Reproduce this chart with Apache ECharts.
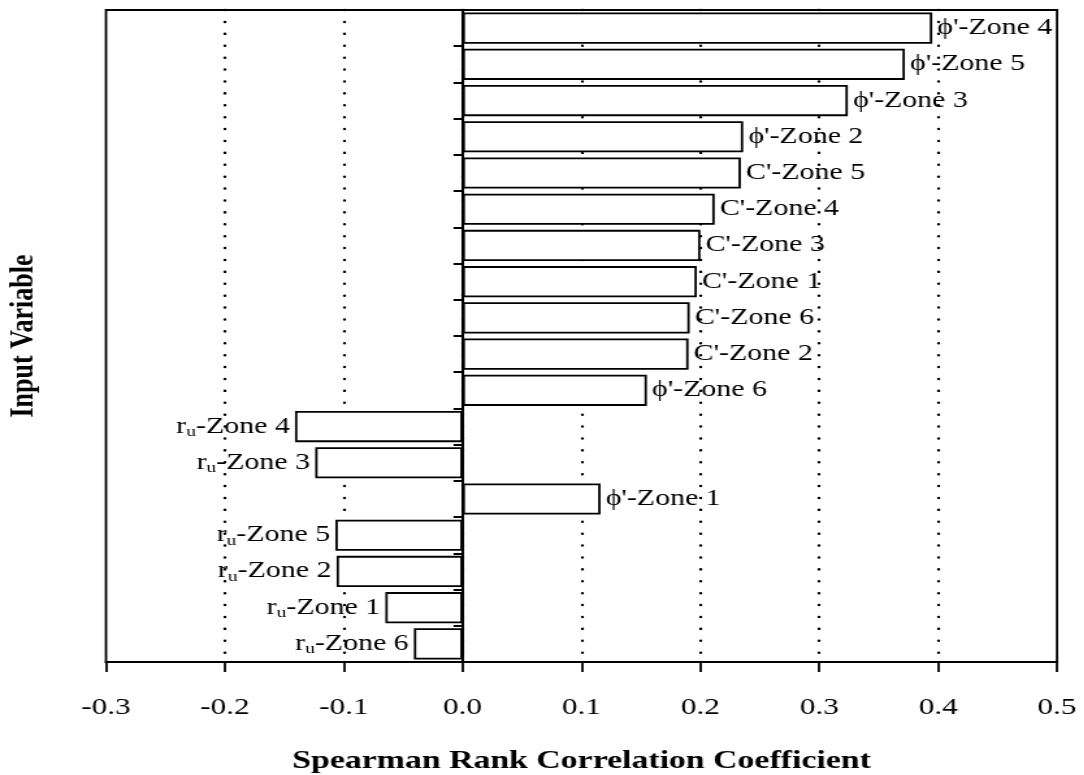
<!DOCTYPE html>
<html>
<head>
<meta charset="utf-8">
<script src="https://cdn.jsdelivr.net/npm/echarts@6/dist/echarts.min.js"></script>
<style>
html,body{margin:0;padding:0;background:#fff;overflow:hidden;}
#wrap{width:1084px;height:775px;overflow:hidden;}
#chart{width:834px;height:775px;transform:scaleX(1.3);transform-origin:0 0;}
</style>
</head>
<body>
<div id="wrap"><div id="chart"></div></div>
<script>
// Categories, top to bottom
const categories = [
  "ϕ'-Zone 4", "ϕ'-Zone 5", "ϕ'-Zone 3", "ϕ'-Zone 2",
  "C'-Zone 5", "C'-Zone 4", "C'-Zone 3", "C'-Zone 1", "C'-Zone 6", "C'-Zone 2",
  "ϕ'-Zone 6", "ru-Zone 4", "ru-Zone 3", "ϕ'-Zone 1",
  "ru-Zone 5", "ru-Zone 2", "ru-Zone 1", "ru-Zone 6"
];
// Spearman rank correlation coefficients
const values = [
  0.395, 0.372, 0.324, 0.236,
  0.234, 0.212, 0.200, 0.197, 0.191, 0.190,
  0.155, -0.141, -0.124, 0.116,
  -0.107, -0.106, -0.065, -0.041
];
const xMin = -0.3, xMax = 0.5, xStep = 0.1;
const xTitle = "Spearman Rank Correlation Coefficient";
const yTitle = "Input Variable";

const FONT = "'Liberation Serif', 'DejaVu Serif', serif";
const SX = 1.3; // horizontal stretch of the whole canvas (matches the scanned figure's aspect)

function labelText(name) {
  if (name.indexOf('ru-') === 0) return '{n|r}{s|u}{n|' + name.slice(2) + '}';
  return '{n|' + name + '}';
}
const data = values.map((v, i) => ({
  value: v,
  label: {position: v >= 0 ? 'right' : 'left', formatter: labelText(categories[i])}
}));

const chart = echarts.init(document.getElementById('chart'), null, {renderer: 'canvas', width: 834, height: 775});
chart.setOption({
  animation: false,
  backgroundColor: '#ffffff',
  grid: {
    left: 106 / SX, right: 834 - 1057 / SX, top: 10, bottom: 113,
    outerBoundsMode: 'none', containLabel: false,
    show: true, borderColor: '#000', borderWidth: 1.8, backgroundColor: 'transparent'
  },
  xAxis: {
    type: 'value', min: xMin, max: xMax, interval: xStep,
    name: xTitle, nameLocation: 'middle', nameGap: 86,
    nameTextStyle: {fontFamily: FONT, fontWeight: 'bold', fontSize: 26, color: '#000'},
    axisLine: {show: true, lineStyle: {color: '#000', width: 2}},
    axisTick: {show: true, length: 10, lineStyle: {color: '#000', width: 1.8}},
    axisLabel: {fontFamily: FONT, fontSize: 24, color: '#000', margin: 34,
      formatter: v => (Math.round(v * 10) / 10).toFixed(1)},
    splitLine: {
      show: true, showMinLine: false, showMaxLine: false,
      lineStyle: {color: '#000', width: 2.4, type: [0.1, 11.8], cap: 'round'}
    }
  },
  yAxis: {
    type: 'category', data: categories, inverse: true,
    name: yTitle, nameLocation: 'middle', nameGap: 50, nameRotate: 90,
    nameTextStyle: {fontFamily: FONT, fontWeight: 'bold', fontSize: 26, color: '#000', padding: [0, 0, 0, 0]},
    axisLine: {show: true, onZero: true, lineStyle: {color: '#000', width: 2}},
    axisTick: {show: true, length: 7, lineStyle: {color: '#000', width: 2}},
    axisLabel: {show: false},
    splitLine: {show: false}
  },
  series: [{
    type: 'bar', data: data, barCategoryGap: '14%',
    itemStyle: {color: '#fff', borderColor: '#000', borderWidth: 1.8},
    label: {show: true, distance: 4, color: '#000', fontFamily: FONT, fontSize: 23,
      rich: {
        n: {fontFamily: FONT, fontSize: 23, color: '#000'},
        s: {fontFamily: FONT, fontSize: 15, color: '#000', verticalAlign: 'bottom', padding: [11, 0, 0, 0]}
      }}
  }]
});
</script>
</body>
</html>
